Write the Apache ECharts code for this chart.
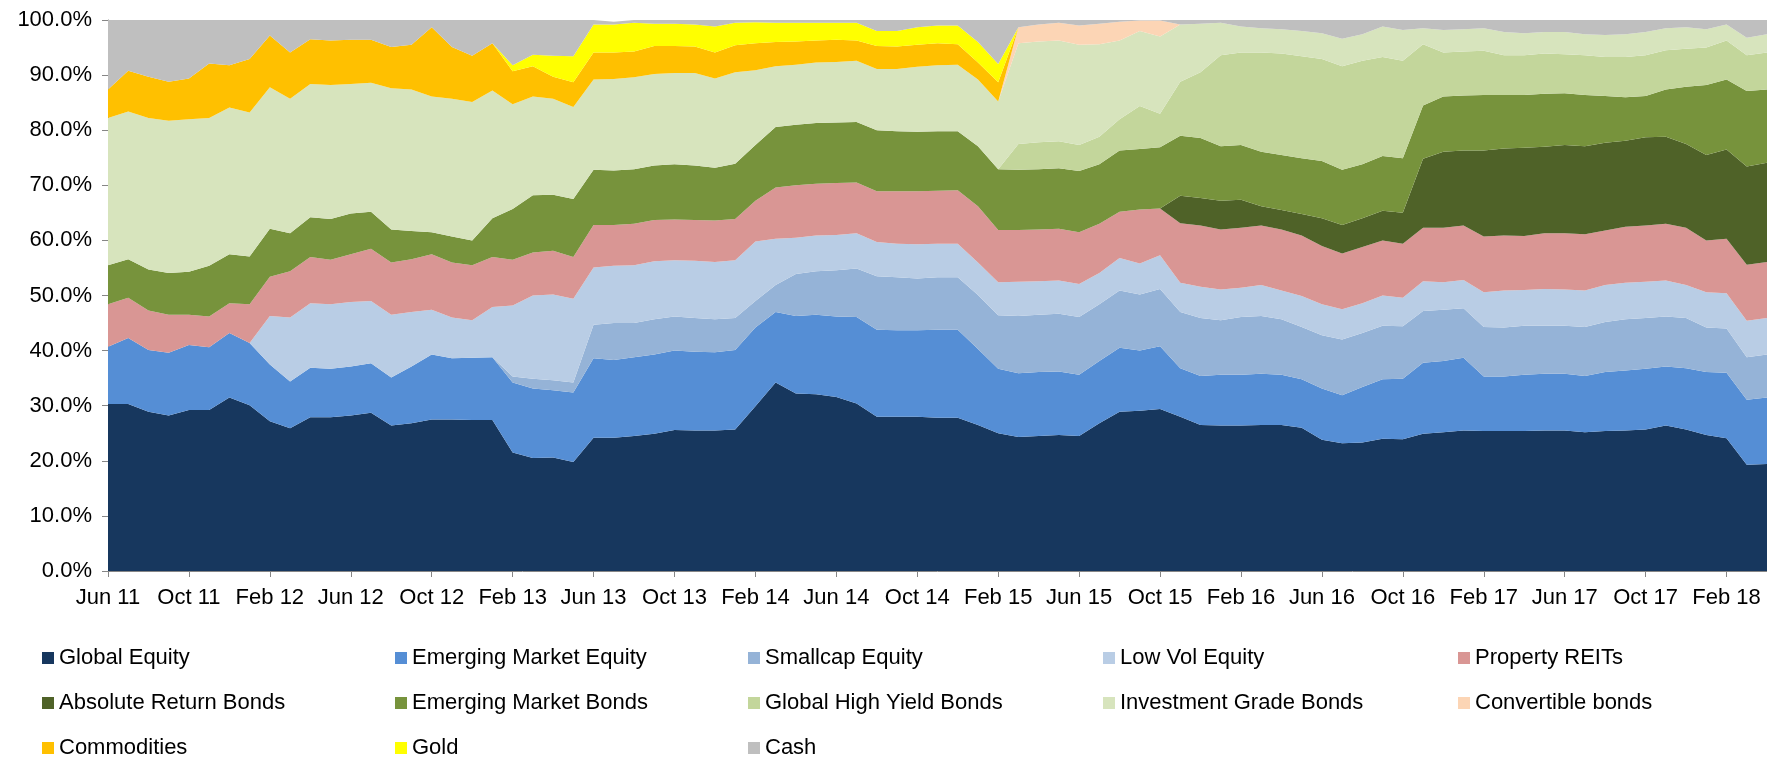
<!DOCTYPE html>
<html>
<head>
<meta charset="utf-8">
<title>Asset allocation</title>
<script src="https://cdn.jsdelivr.net/npm/echarts@6/dist/echarts.min.js"></script>
<style>
  html, body { margin: 0; padding: 0; background: #fff; }
  #chart { width: 1767px; height: 759px; }
</style>
</head>
<body>
<div id="chart"></div>
<script>
// monthly allocation (%), Jun 11 .. Apr 18
const months = [
  "Jun 11", "Jul 11", "Aug 11", "Sep 11", "Oct 11", "Nov 11", "Dec 11",
  "Jan 12", "Feb 12", "Mar 12", "Apr 12", "May 12", "Jun 12", "Jul 12", "Aug 12", "Sep 12", "Oct 12", "Nov 12", "Dec 12",
  "Jan 13", "Feb 13", "Mar 13", "Apr 13", "May 13", "Jun 13", "Jul 13", "Aug 13", "Sep 13", "Oct 13", "Nov 13", "Dec 13",
  "Jan 14", "Feb 14", "Mar 14", "Apr 14", "May 14", "Jun 14", "Jul 14", "Aug 14", "Sep 14", "Oct 14", "Nov 14", "Dec 14",
  "Jan 15", "Feb 15", "Mar 15", "Apr 15", "May 15", "Jun 15", "Jul 15", "Aug 15", "Sep 15", "Oct 15", "Nov 15", "Dec 15",
  "Jan 16", "Feb 16", "Mar 16", "Apr 16", "May 16", "Jun 16", "Jul 16", "Aug 16", "Sep 16", "Oct 16", "Nov 16", "Dec 16",
  "Jan 17", "Feb 17", "Mar 17", "Apr 17", "May 17", "Jun 17", "Jul 17", "Aug 17", "Sep 17", "Oct 17", "Nov 17", "Dec 17",
  "Jan 18", "Feb 18", "Mar 18", "Apr 18"
];

const globalEquity = [
  30.3, 30.3, 28.9, 28.2, 29.2, 29.2, 31.5, 30.1, 27.2, 25.9, 27.9, 27.9, 28.2, 28.7, 26.4,
  26.8, 27.5, 27.5, 27.4, 27.4, 21.5, 20.5, 20.6, 19.8, 24.2, 24.2, 24.5, 24.9, 25.6,
  25.5, 25.5, 25.7, 29.9, 34.2, 32.2, 32.1, 31.6, 30.4, 28.0, 28.0, 28.0, 27.8,
  27.8, 26.5, 25.0, 24.3, 24.5, 24.7, 24.5, 26.8, 28.9, 29.1, 29.4, 28.0, 26.5, 26.4,
  26.4, 26.5, 26.5, 26.0, 23.8, 23.2, 23.3, 24.0, 23.9, 24.9, 25.2, 25.5, 25.4, 25.4,
  25.4, 25.5, 25.5, 25.2, 25.4, 25.5, 25.7, 26.4, 25.7, 24.7, 24.1, 19.3, 19.4
];
const emEquity = [
  10.4, 12.0, 11.2, 11.4, 11.8, 11.4, 11.7, 11.3, 10.3, 8.5, 9.0, 8.8, 8.9, 9.0, 8.7,
  10.3, 11.8, 11.1, 11.3, 11.4, 12.7, 12.6, 12.2, 12.6, 14.4, 14.1, 14.3, 14.4, 14.4,
  14.3, 14.2, 14.4, 14.3, 12.8, 14.1, 14.4, 14.6, 15.7, 15.8, 15.7, 15.7, 16.0,
  16.0, 13.8, 11.7, 11.6, 11.6, 11.5, 11.1, 11.3, 11.6, 10.9, 11.4, 8.8, 8.9, 9.2,
  9.2, 9.3, 9.1, 8.8, 9.3, 8.7, 10.1, 10.8, 11.0, 12.9, 12.9, 13.2, 9.9, 9.9,
  10.2, 10.3, 10.3, 10.2, 10.7, 10.9, 11.0, 10.7, 11.1, 11.4, 11.9, 11.8, 12.1
];
const smallcap = [
  0, 0, 0, 0, 0, 0, 0, 0, 0, 0, 0, 0, 0, 0, 0,
  0, 0, 0, 0, 0, 1.1, 1.8, 1.8, 1.8, 6.1, 6.7, 6.2, 6.4, 6.2,
  6.1, 6.0, 5.8, 4.8, 4.9, 7.6, 7.9, 8.4, 8.8, 9.7, 9.6, 9.4, 9.5,
  9.5, 9.8, 9.7, 10.4, 10.4, 10.5, 10.5, 10.3, 10.4, 10.2, 10.4, 10.2, 10.5, 9.9,
  10.5, 10.5, 10.1, 9.5, 9.7, 10.1, 9.8, 9.7, 9.5, 9.4, 9.3, 9.0, 9.0, 8.9,
  8.9, 8.7, 8.7, 8.9, 9.1, 9.3, 9.2, 9.1, 9.1, 8.1, 8.0, 7.7, 7.8
];
const lowVol = [
  0, 0, 0, 0, 0, 0, 0, 0, 8.8, 11.6, 11.7, 11.7, 11.7, 11.3, 11.4,
  9.9, 8.1, 7.4, 6.8, 9.1, 12.9, 15.1, 15.6, 15.2, 10.4, 10.4, 10.5, 10.5, 10.2,
  10.4, 10.4, 10.5, 10.8, 8.4, 6.6, 6.5, 6.4, 6.4, 6.2, 6.1, 6.2, 6.1,
  6.1, 5.9, 6.0, 6.2, 6.1, 6.0, 6.0, 5.7, 5.9, 5.6, 6.1, 5.3, 5.7, 5.6,
  5.3, 5.6, 5.2, 5.6, 5.6, 5.5, 5.4, 5.5, 5.2, 5.4, 5.0, 5.1, 6.3, 6.7,
  6.5, 6.7, 6.6, 6.6, 6.7, 6.6, 6.6, 6.5, 6.0, 6.4, 6.4, 6.6, 6.6
];
const reits = [
  7.7, 7.3, 7.2, 6.9, 5.5, 5.6, 5.4, 7.0, 7.1, 8.4, 8.4, 8.1, 8.7, 9.5, 9.5,
  9.6, 10.1, 10.0, 10.0, 9.1, 8.3, 7.8, 7.9, 7.6, 7.7, 7.4, 7.5, 7.5, 7.4,
  7.4, 7.5, 7.5, 7.4, 9.3, 9.5, 9.4, 9.4, 9.2, 9.2, 9.5, 9.6, 9.6,
  9.7, 10.2, 9.5, 9.4, 9.4, 9.4, 9.4, 8.9, 8.4, 9.8, 8.5, 10.8, 11.1, 10.9,
  10.9, 10.8, 11.1, 11.0, 10.6, 10.1, 10.2, 10.0, 9.8, 9.7, 9.9, 9.9, 10.1, 10.0,
  9.8, 10.1, 10.2, 10.2, 9.9, 10.2, 10.2, 10.3, 10.4, 9.4, 9.9, 10.2, 10.2
];
const absReturn = [
  0, 0, 0, 0, 0, 0, 0, 0, 0, 0, 0, 0, 0, 0, 0,
  0, 0, 0, 0, 0, 0, 0, 0, 0, 0, 0, 0, 0, 0,
  0, 0, 0, 0, 0, 0, 0, 0, 0, 0, 0, 0, 0,
  0, 0, 0, 0, 0, 0, 0, 0, 0, 0, 0, 5.0, 5.0, 5.2,
  5.1, 3.5, 3.5, 3.9, 5.0, 5.2, 5.2, 5.4, 5.6, 12.5, 13.8, 13.6, 15.6, 15.8,
  16.0, 15.7, 16.0, 16.0, 15.9, 15.6, 16.0, 15.8, 15.2, 15.5, 16.2, 17.8, 18.0
];
const emBonds = [
  7.1, 7.0, 7.4, 7.6, 7.8, 9.2, 8.9, 8.7, 8.7, 6.9, 7.2, 7.4, 7.4, 6.7, 6.0,
  5.1, 4.0, 4.7, 4.5, 7.0, 9.2, 10.4, 10.2, 10.5, 10.0, 9.9, 9.9, 9.9, 10.0,
  9.9, 9.6, 10.0, 10.1, 11.0, 11.0, 11.0, 11.0, 11.0, 11.1, 10.9, 10.8, 10.8,
  10.7, 10.9, 11.0, 10.9, 10.9, 11.0, 11.1, 10.8, 11.1, 11.0, 11.1, 10.9, 10.9, 9.9,
  9.9, 9.9, 10.0, 10.1, 10.4, 10.0, 9.8, 9.9, 9.9, 9.7, 10.0, 10.0, 10.1, 9.7,
  9.6, 9.6, 9.4, 9.3, 8.5, 7.9, 7.5, 8.6, 10.4, 12.7, 12.7, 13.7, 13.3
];
const highYield = [
  0, 0, 0, 0, 0, 0, 0, 0, 0, 0, 0, 0, 0, 0, 0,
  0, 0, 0, 0, 0, 0, 0, 0, 0, 0, 0, 0, 0, 0,
  0, 0, 0, 0, 0, 0, 0, 0, 0, 0, 0, 0, 0,
  0, 0, 0, 4.7, 4.9, 4.9, 4.7, 5.0, 5.7, 7.8, 6.1, 9.8, 11.9, 16.5,
  16.8, 18.0, 18.4, 18.5, 18.5, 18.8, 18.8, 18.0, 17.7, 11.1, 8.0, 8.0, 8.0, 7.2,
  7.2, 7.3, 7.1, 7.2, 7.1, 7.3, 7.4, 7.1, 6.9, 6.8, 7.1, 6.5, 6.7
];
const invGrade = [
  26.7, 26.8, 27.5, 27.6, 27.7, 26.8, 26.6, 26.1, 25.7, 24.4, 24.2, 24.3, 23.5, 23.4, 25.6,
  25.7, 24.6, 25.0, 25.1, 23.2, 19.0, 17.9, 17.4, 16.7, 16.4, 16.6, 16.7, 16.6, 16.6,
  16.8, 16.2, 16.6, 13.6, 11.0, 10.9, 11.0, 11.0, 11.1, 11.1, 11.3, 11.8, 12.0,
  12.1, 12.1, 12.3, 18.3, 18.3, 18.3, 18.2, 16.8, 14.3, 13.6, 14.0, 10.4, 8.8, 5.9,
  4.7, 4.4, 4.4, 4.6, 4.7, 5.0, 4.8, 5.5, 5.6, 2.9, 4.1, 4.0, 4.1, 4.2,
  4.0, 3.9, 4.0, 3.8, 4.0, 4.1, 4.2, 4.0, 3.9, 3.3, 2.9, 3.2, 3.3
];
const convertible = [
  0, 0, 0, 0, 0, 0, 0, 0, 0, 0, 0, 0, 0, 0, 0,
  0, 0, 0, 0, 0, 0, 0, 0, 0, 0, 0, 0, 0, 0,
  0, 0, 0, 0, 0, 0, 0, 0, 0, 0, 0, 0, 0,
  0, 0, 0, 2.9, 3.1, 3.2, 3.5, 3.7, 3.4, 1.9, 2.9, 0, 0, 0,
  0, 0, 0, 0, 0, 0, 0, 0, 0, 0, 0, 0, 0, 0,
  0, 0, 0, 0, 0, 0, 0, 0, 0, 0, 0, 0, 0
];
const commodities = [
  5.2, 7.4, 7.5, 7.1, 7.4, 9.9, 7.7, 9.7, 9.4, 8.4, 8.1, 8.1, 8.0, 7.8, 7.5,
  8.1, 12.6, 9.4, 8.4, 8.6, 6.0, 5.5, 4.0, 4.5, 4.9, 4.8, 4.7, 5.1, 4.9,
  4.8, 4.7, 4.9, 4.9, 4.4, 4.2, 4.0, 4.0, 3.7, 4.2, 4.1, 4.0, 4.0,
  3.7, 3.1, 3.5, 0, 0, 0, 0, 0, 0, 0, 0, 0, 0, 0,
  0, 0, 0, 0, 0, 0, 0, 0, 0, 0, 0, 0, 0, 0,
  0, 0, 0, 0, 0, 0, 0, 0, 0, 0, 0, 0, 0
];
const gold = [
  0, 0, 0, 0, 0, 0, 0, 0, 0, 0, 0, 0, 0, 0, 0,
  0, 0, 0, 0, 0, 1.1, 2.1, 3.8, 4.7, 5.1, 5.1, 5.2, 4.0, 4.0,
  4.0, 4.7, 4.1, 3.8, 3.5, 3.4, 3.2, 3.1, 3.2, 2.7, 2.8, 3.2, 3.2,
  3.4, 3.7, 3.3, 0, 0, 0, 0, 0, 0, 0, 0, 0, 0, 0,
  0, 0, 0, 0, 0, 0, 0, 0, 0, 0, 0, 0, 0, 0,
  0, 0, 0, 0, 0, 0, 0, 0, 0, 0, 0, 0, 0
];
const cash = [
  12.6, 9.2, 10.3, 11.2, 10.6, 7.9, 8.2, 7.1, 2.8, 5.9, 3.5, 3.7, 3.6, 3.6, 4.9,
  4.5, 1.3, 4.9, 6.5, 4.2, 8.2, 6.3, 6.5, 6.6, 0.8, 0.5, 0.5, 0.7, 0.7,
  0.8, 1.2, 0.5, 0.4, 0.5, 0.5, 0.5, 0.5, 0.5, 2.0, 2.0, 1.3, 1.0,
  1.0, 4.0, 8.1, 1.3, 0.8, 0.5, 1.0, 0.7, 0.3, 0.1, 0.1, 0.8, 0.7, 0.5,
  1.2, 1.5, 1.7, 2.0, 2.4, 3.4, 2.6, 1.2, 1.8, 1.5, 1.8, 1.7, 1.5, 2.2,
  2.4, 2.2, 2.2, 2.6, 2.7, 2.6, 2.2, 1.5, 1.3, 1.7, 0.8, 3.2, 2.6
];

// bottom to top
const layers = [
  { name: "Global Equity", data: globalEquity, color: "#17375E" },
  { name: "Emerging Market Equity", data: emEquity, color: "#558ED5" },
  { name: "Smallcap Equity", data: smallcap, color: "#95B3D7" },
  { name: "Low Vol Equity", data: lowVol, color: "#B9CDE5" },
  { name: "Property REITs", data: reits, color: "#D99694" },
  { name: "Absolute Return Bonds", data: absReturn, color: "#4F6228" },
  { name: "Emerging Market Bonds", data: emBonds, color: "#77933C" },
  { name: "Global High Yield Bonds", data: highYield, color: "#C3D69B" },
  { name: "Investment Grade Bonds", data: invGrade, color: "#D7E4BD" },
  { name: "Convertible bonds", data: convertible, color: "#FCD5B5" },
  { name: "Commodities", data: commodities, color: "#FFC000" },
  { name: "Gold", data: gold, color: "#FFFF00" },
  { name: "Cash", data: cash, color: "#BFBFBF" },
];

// legend columns as laid out in the original (3 rows)
const legendCols = [
  ["Global Equity", "Absolute Return Bonds", "Commodities"],
  ["Emerging Market Equity", "Emerging Market Bonds", "Gold"],
  ["Smallcap Equity", "Global High Yield Bonds", "Cash"],
  ["Low Vol Equity", "Investment Grade Bonds"],
  ["Property REITs", "Convertible bonds"],
];
const legendLeft = [42, 395, 748, 1103, 1458];

const font = "'Liberation Sans', Arial, sans-serif";
const axisGrey = "#868686";

const chart = echarts.init(document.getElementById("chart"));

const option = {
  animation: false,
  backgroundColor: "#fff",
  grid: {
    left: 108,
    right: 0,
    top: 20,
    bottom: 188,
    containLabel: false,
    outerBoundsMode: "none",
  },
  legend: legendCols.map((names, i) => ({
    data: names,
    orient: "vertical",
    left: legendLeft[i],
    top: 647,
    padding: 0,
    icon: "rect",
    itemWidth: 12,
    itemHeight: 12,
    itemGap: 23,
    selectedMode: false,
    textStyle: {
      fontFamily: font,
      fontSize: 22,
      lineHeight: 22,
      color: "#000",
    },
  })),
  xAxis: {
    type: "category",
    boundaryGap: false,
    data: months,
    axisLine: { show: true, lineStyle: { color: axisGrey, width: 1 } },
    axisTick: { show: true, interval: 3, length: 6, lineStyle: { color: axisGrey } },
    axisLabel: {
      interval: 3,
      margin: 16,
      fontFamily: font,
      fontSize: 22,
      color: "#000",
    },
    splitLine: { show: false },
  },
  yAxis: {
    type: "value",
    min: 0,
    max: 100,
    interval: 10,
    axisLine: { show: true, lineStyle: { color: axisGrey, width: 1 } },
    axisTick: { show: true, length: 6, lineStyle: { color: axisGrey } },
    axisLabel: {
      margin: 16,
      fontFamily: font,
      fontSize: 22,
      color: "#000",
      formatter: (v) => v.toFixed(1) + "%",
    },
    splitLine: { show: false },
  },
  series: layers.map((l) => ({
    name: l.name,
    type: "line",
    stack: "total",
    data: l.data,
    color: l.color,
    symbol: "none",
    showSymbol: false,
    lineStyle: { width: 0 },
    areaStyle: { color: l.color, opacity: 1 },
    emphasis: { disabled: true },
  })),
};

chart.setOption(option);
</script>
</body>
</html>
